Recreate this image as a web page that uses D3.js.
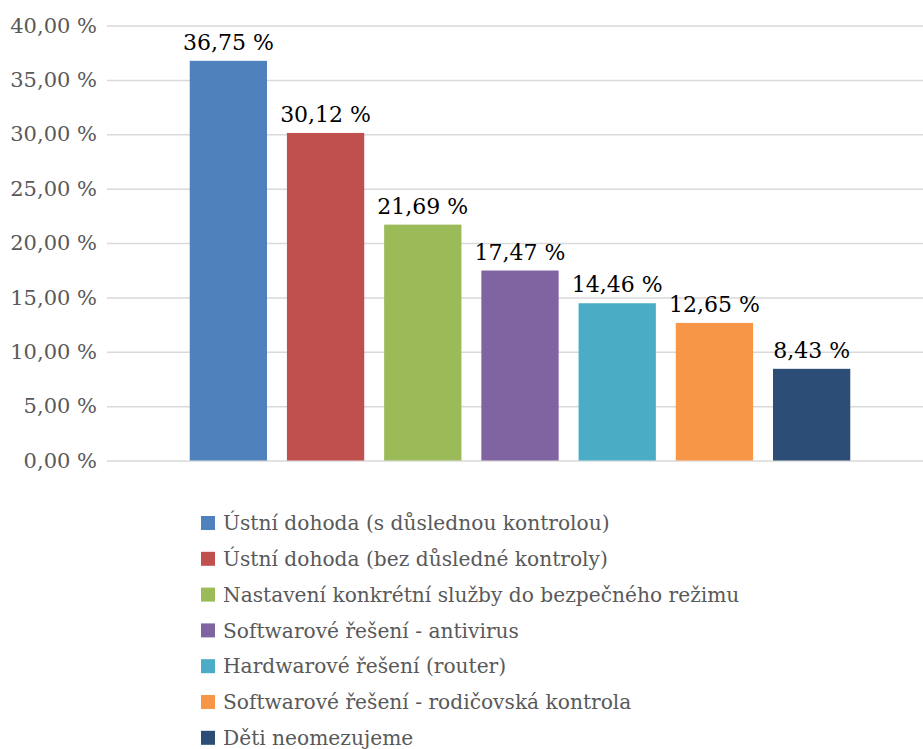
<!DOCTYPE html>
<html>
<head>
<meta charset="utf-8">
<script src="https://cdn.jsdelivr.net/npm/d3@7"></script>
<style>
  body { margin: 0; background: #fff; }
  svg { display: block; font-family: "DejaVu Serif", serif; }
</style>
</head>
<body>
<svg width="923" height="749"></svg>
<script>
const categories = [
  'Ústní dohoda (s důslednou kontrolou)',
  'Ústní dohoda (bez důsledné kontroly)',
  'Nastavení konkrétní služby do bezpečného režimu',
  'Softwarové řešení - antivirus',
  'Hardwarové řešení (router)',
  'Softwarové řešení - rodičovská kontrola',
  'Děti neomezujeme'
]
const values = [36.75, 30.12, 21.69, 17.47, 14.46, 12.65, 8.43]
const colors = ['#4F81BD', '#C0504D', '#9BBB59', '#8064A2', '#4BACC6', '#F79646', '#2C4D75']
const yTicks = [0, 5, 10, 15, 20, 25, 30, 35, 40]

const fmt = v => v.toFixed(2).replace('.', ',') + ' %'

const svg = d3.select('svg')

const x = d3.scaleBand()
  .domain(categories)
  .range([180, 860])
  .paddingInner(0.205)
  .paddingOuter(0.1)

const y = d3.scaleLinear()
  .domain([0, 40])
  .range([460.5, 25.5])

// gridlines + tick labels
const yAxis = d3.axisLeft(y)
  .tickValues(yTicks)
  .tickSize(-(923 - 107))
  .tickPadding(10)
  .tickFormat(fmt)

svg.append('g')
  .attr('transform', 'translate(107,0)')
  .call(yAxis)
  .call(g => g.select('.domain').remove())
  .call(g => g.selectAll('line').attr('stroke', '#D9D9D9').attr('stroke-width', 1.5))
  .call(g => g.selectAll('text')
    .attr('fill', '#595959')
    .attr('font-size', 21)
    .attr('font-family', '"DejaVu Serif", serif'))

svg.append('g')
  .selectAll('rect')
  .data(values)
  .enter().append('rect')
  .attr('x', (d, i) => x(categories[i]))
  .attr('width', x.bandwidth())
  .attr('y', d => y(d))
  .attr('height', d => y(0) - y(d))
  .attr('fill', (d, i) => colors[i])

svg.append('g')
  .selectAll('text')
  .data(values)
  .enter().append('text')
  .attr('x', (d, i) => x(categories[i]) + x.bandwidth() / 2)
  .attr('y', d => y(d) - 11)
  .attr('text-anchor', 'middle')
  .attr('font-size', 22)
  .attr('fill', '#000')
  .text(fmt)

// legend
const legend = svg.append('g')
  .selectAll('g')
  .data(categories)
  .enter().append('g')
  .attr('transform', (d, i) => `translate(201,${523 + i * 35.8})`)

legend.append('rect')
  .attr('x', 0)
  .attr('y', -7)
  .attr('width', 14)
  .attr('height', 14)
  .attr('fill', (d, i) => colors[i])

legend.append('text')
  .attr('x', 22)
  .attr('y', 0)
  .attr('dy', '0.36em')
  .attr('font-size', 20.2)
  .attr('fill', '#595959')
  .text(d => d)
</script>
</body>
</html>
